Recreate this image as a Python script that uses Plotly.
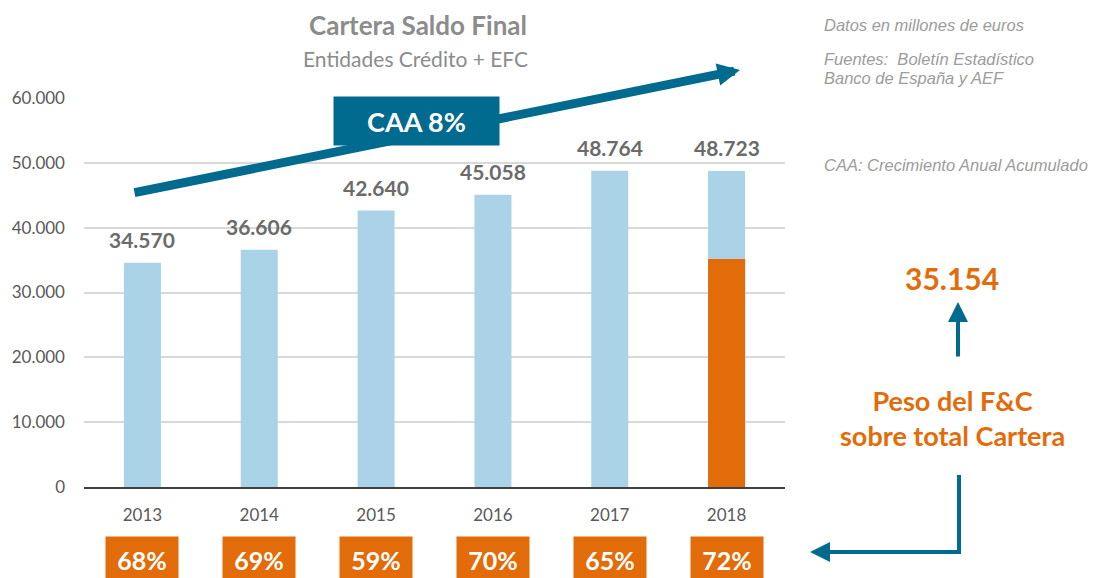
import plotly.graph_objects as go

years = ["2013", "2014", "2015", "2016", "2017", "2018"]
totals = [34570, 36606, 42640, 45058, 48764, 48723]
total_labels = ["34.570", "36.606", "42.640", "45.058", "48.764", "48.723"]
fc_2018 = 35154
fc_2018_label = "35.154"
fc_share = ["68%", "69%", "59%", "70%", "65%", "72%"]
caa_label = "CAA 8%"

BLUE = "#ABD3E8"
ORANGE = "#E36C0A"
TEAL = "#006A8F"
GRAY = "#6B6B6B"

OFF = 8  # page body margin
W, H = 1098 - OFF, 578 - OFF
# plot area in screenshot pixels
L, R, T, B = 84, 785, 98, 487


def px(x):
    return (x - L) / (R - L)


def py(y):
    return (B - y) / (B - T)


def label(x, y, text, font, xanchor="center", yanchor="middle", **kw):
    d = dict(x=x, y=y, xref="paper", yref="paper", text=text, showarrow=False,
             xanchor=xanchor, yanchor=yanchor, font=font)
    d.update(kw)
    return d


fig = go.Figure()
fig.add_trace(go.Bar(x=years, y=totals, marker=dict(color=BLUE, line=dict(width=0)),
                     width=0.317, hoverinfo="skip"))
fig.add_trace(go.Bar(x=years, y=[None] * 5 + [fc_2018], marker=dict(color=ORANGE, line=dict(width=0)),
                     width=0.317, hoverinfo="skip"))

ann = []
# value labels (category index positions)
for i, (v, lab) in enumerate(zip(totals, total_labels)):
    ann.append(dict(x=i, y=v, xref="x", yref="y", text=f"<b>{lab}</b>", showarrow=False,
                    xanchor="center", yanchor="bottom", yshift=9,
                    font=dict(family="Lato", size=21, color=GRAY)))

# share boxes
for i, s in enumerate(fc_share):
    ann.append(dict(x=i, y=py(560), xref="x", yref="paper", text=f"<b>{s}</b>", showarrow=False,
                    xanchor="center", yanchor="middle",
                    width=72, height=46, bgcolor=ORANGE, borderpad=0,
                    font=dict(family="Lato", size=25, color="white")))

# CAA arrow
ann.append(dict(x=px(740), y=py(70), xref="paper", yref="paper", ax=133 - 740, ay=193 - 70,
                axref="pixel", ayref="pixel", showarrow=True, arrowhead=2, arrowsize=0.5,
                arrowwidth=9, arrowcolor=TEAL, text=""))
ann.append(label(px(416), py(121), f"<b>{caa_label}</b>", dict(family="Lato", size=27, color="white"),
                 width=163, height=46, bgcolor=TEAL))

# titles
ann.append(label(px(418), py(25), "<b>Cartera Saldo Final</b>", dict(family="Lato", size=26, color="#8C8C8C")))
ann.append(label(px(415), py(58), "Entidades Crédito + EFC", dict(family="Lato", size=21, color="#8C8C8C")))

# notes
note_font = dict(family="Liberation Sans", size=16.5, color="#9C9C9C")
for txt, yy in [("<i>Datos en millones de euros</i>", 25),
                ("<i>Fuentes:  Boletín Estadístico</i>", 59),
                ("<i>Banco de España y AEF</i>", 78),
                ("<i>CAA: Crecimiento Anual Acumulado</i>", 165)]:
    ann.append(label(px(822), py(yy), txt, note_font, xanchor="left"))

# right side
ann.append(label(px(952), py(278), f"<b>{fc_2018_label}</b>", dict(family="Lato", size=30, color=ORANGE)))
ann.append(dict(x=px(958), y=py(302), xref="paper", yref="paper", ax=0, ay=56, showarrow=True,
                arrowhead=2, arrowsize=1.0, arrowwidth=4, arrowcolor=TEAL, text=""))
ann.append(label(px(952), py(418), "<b>Peso del F&C<br>sobre total Cartera</b>",
                 dict(family="Lato", size=27, color=ORANGE)))
ann.append(dict(x=px(810), y=py(552), xref="paper", yref="paper", ax=149, ay=0, showarrow=True,
                arrowhead=2, arrowsize=1.0, arrowwidth=4, arrowcolor=TEAL, text=""))

shapes = [dict(type="line", xref="paper", yref="paper", x0=px(959), x1=px(959), y0=py(475), y1=py(554),
               line=dict(color=TEAL, width=4))]

fig.update_layout(
    width=W, height=H,
    margin=dict(l=L - OFF, r=1098 - R, t=T - OFF, b=578 - B, autoexpand=False),
    paper_bgcolor="white", plot_bgcolor="white",
    barmode="overlay", showlegend=False,
    separators=",.",
    annotations=ann, shapes=shapes,
    xaxis=dict(type="category", range=[-0.5, 5.5], autorange=False, automargin=False,
               showgrid=False, showline=True, linecolor="#404040", linewidth=2,
               ticks="", tickfont=dict(family="Lato", size=17, color="#595959"), ticklabelstandoff=12),
    yaxis=dict(range=[0, 60000], autorange=False, automargin=False,
               tickvals=[0, 10000, 20000, 30000, 40000, 50000, 60000],
               tickformat=",d", showgrid=True, gridcolor="#D9D9D9", gridwidth=2, zeroline=False,
               ticks="", tickfont=dict(family="Lato", size=17, color="#595959"), ticklabelstandoff=18),
)

fig.write_html("out.html")
